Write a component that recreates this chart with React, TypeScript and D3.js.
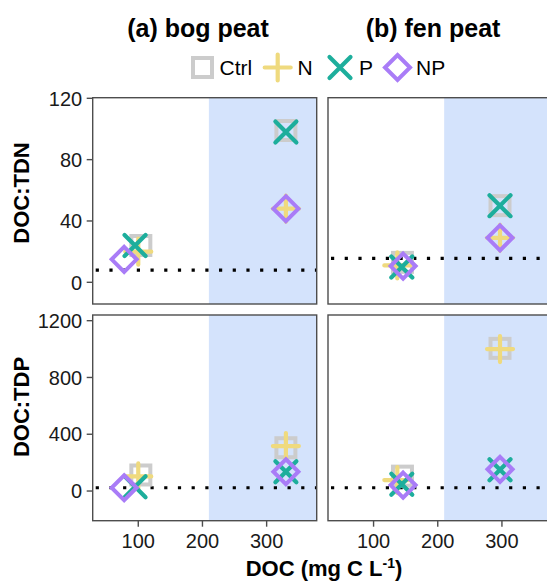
import React from "react";
import * as d3 from "d3";

// ---- data ----
const treatments = ["Ctrl", "N", "P", "NP"];
const peats = ["(a) bog peat", "(b) fen peat"];
const ratios = ["DOC:TDN", "DOC:TDP"];

// DOC (x) per peat, low & high additions, in treatment order
const bogDocLow = [104, 100, 95, 78];
const bogDocHigh = [330, 330, 330, 330];
const fenDocLow = [145, 137, 144, 146];
const fenDocHigh = [297, 297, 297, 297];

// DOC:TDN
const bogTdnLow = [24, 20, 24, 15];
const bogTdnHigh = [99, 48, 98, 48];
const fenTdnLow = [13, 11, 10, 10.6];
const fenTdnHigh = [50, 29, 50, 29];

// DOC:TDP
const bogTdpLow = [113, 103, 30, 23];
const bogTdpHigh = [305, 317, 136, 136];
const fenTdpLow = [105, 77, 48, 42];
const fenTdpHigh = [1005, 1000, 150, 153];

// reference (dotted) lines: [bog, fen]
const tdnRef = [8, 15.6];
const tdpRef = [23, 23];

const shadeStart = 210;
const xTicks = [100, 200, 300];
const tdnTicks = [0, 40, 80, 120];
const tdpTicks = [0, 400, 800, 1200];

const colors = ["#CCCCCC", "#EFDA7E", "#1DAE9C", "#A97CF7"];

// ---- layout ----
const W = 547, H = 583;
const panelX = [[92.7, 316.7], [328, 552]];
const panelY = [[97.7, 304], [315, 520.7]];
const xDomain = [29, 378];
const yDomains = [[-14.15, 120.4], [-209, 1240]];
const FONT = "'Liberation Sans', Arial, Helvetica, sans-serif";

function Marker({ shape, x, y, color }) {
  const sw = 4.2;
  if (shape === 0) {
    return <rect x={x - 9.5} y={y - 9.5} width={19} height={19} fill="none" stroke={color} strokeWidth={4} />;
  }
  if (shape === 1) {
    return <path d={`M${x - 13},${y}H${x + 13}M${x},${y - 13}V${y + 13}`} stroke={color} strokeWidth={sw} strokeLinecap="round" fill="none" />;
  }
  if (shape === 2) {
    const r = 10.5;
    return <path d={`M${x - r},${y - r}L${x + r},${y + r}M${x - r},${y + r}L${x + r},${y - r}`} stroke={color} strokeWidth={sw} strokeLinecap="round" fill="none" />;
  }
  const r = 12.5;
  return <path d={`M${x},${y - r}L${x + r},${y}L${x},${y + r}L${x - r},${y}Z`} stroke={color} strokeWidth={4} fill="none" strokeLinejoin="miter" />;
}

export default function App() {
  const groups = [
    // [row][col] -> list of {x[], y[]}
    [
      [{ x: bogDocLow, y: bogTdnLow }, { x: bogDocHigh, y: bogTdnHigh }],
      [{ x: fenDocLow, y: fenTdnLow }, { x: fenDocHigh, y: fenTdnHigh }],
    ],
    [
      [{ x: bogDocLow, y: bogTdpLow }, { x: bogDocHigh, y: bogTdpHigh }],
      [{ x: fenDocLow, y: fenTdpLow }, { x: fenDocHigh, y: fenTdpHigh }],
    ],
  ];
  const refs = [tdnRef, tdpRef];
  const yTicksAll = [tdnTicks, tdpTicks];
  const ratioLabelY = [193, 407];
  const titleX = [198, 433];

  const panels = [];
  for (let r = 0; r < 2; r++) {
    for (let c = 0; c < 2; c++) {
      const [x0, x1] = panelX[c];
      const [y0, y1] = panelY[r];
      const xs = d3.scaleLinear().domain(xDomain).range([x0, x1]);
      const ys = d3.scaleLinear().domain(yDomains[r]).range([y1, y0]);
      const clipId = `clip-${r}-${c}`;
      panels.push(
        <g key={`p${r}${c}`}>
          <clipPath id={clipId}>
            <rect x={x0} y={y0} width={x1 - x0} height={y1 - y0} />
          </clipPath>
          <g clipPath={`url(#${clipId})`}>
            <rect x={x0} y={y0} width={x1 - x0} height={y1 - y0} fill="#ffffff" />
            <rect x={xs(shadeStart)} y={y0} width={x1 - xs(shadeStart)} height={y1 - y0} fill="#D4E3FC" />
            <line x1={x0} x2={x1} y1={ys(refs[r][c])} y2={ys(refs[r][c])} stroke="#000" strokeWidth={3.2} strokeDasharray="3.2 10.5" strokeDashoffset={-3} />
            {groups[r][c].map((g, gi) =>
              treatments.map((t, ti) => (
                <Marker key={`${gi}-${ti}`} shape={ti} x={xs(g.x[ti])} y={ys(g.y[ti])} color={colors[ti]} />
              ))
            )}
          </g>
          <rect x={x0} y={y0} width={x1 - x0} height={y1 - y0} fill="none" stroke="#4D4D4D" strokeWidth={1.4} />
          {c === 0 &&
            yTicksAll[r].map((t) => (
              <g key={`yt${t}`}>
                <line x1={x0 - 6} x2={x0} y1={ys(t)} y2={ys(t)} stroke="#4D4D4D" strokeWidth={1.4} />
                <text x={x0 - 10.5} y={ys(t)} dy="0.36em" textAnchor="end" fontSize={20} fontFamily={FONT} fill="#1a1a1a">{t}</text>
              </g>
            ))}
          {r === 1 &&
            xTicks.map((t) => (
              <g key={`xt${t}`}>
                <line x1={xs(t)} x2={xs(t)} y1={y1} y2={y1 + 6} stroke="#4D4D4D" strokeWidth={1.4} />
                <text x={xs(t)} y={548} textAnchor="middle" fontSize={20} fontFamily={FONT} fill="#1a1a1a">{t}</text>
              </g>
            ))}
        </g>
      );
    }
  }

  // legend
  const legendItems = [
    { mx: 202.5, tx: 219.5 },
    { mx: 277.7, tx: 297.5 },
    { mx: 340, tx: 359 },
    { mx: 397.5, tx: 416 },
  ];

  return (
    <svg width={W} height={H} style={{ position: "absolute", left: 0, top: 0, background: "#fff" }}>
      <rect x={0} y={0} width={W} height={H} fill="#fff" />
      {peats.map((p, i) => (
        <text key={p} x={titleX[i]} y={36.5} textAnchor="middle" fontSize={25} fontWeight="bold" fontFamily={FONT} fill="#000">{p}</text>
      ))}
      {treatments.map((t, i) => (
        <g key={t}>
          <Marker shape={i} x={legendItems[i].mx} y={67.5} color={colors[i]} />
          <text x={legendItems[i].tx} y={67.5} dy="0.36em" fontSize={21} fontFamily={FONT} fill="#000">{t}</text>
        </g>
      ))}
      {panels}
      {ratios.map((lab, i) => (
        <text key={lab} transform={`translate(28.5,${ratioLabelY[i]}) rotate(-90)`} textAnchor="middle" fontSize={22} fontWeight="bold" fontFamily={FONT} fill="#000">{lab}</text>
      ))}
      <text x={324} y={575.5} textAnchor="middle" fontSize={22} fontWeight="bold" fontFamily={FONT} fill="#000">
        DOC (mg C L<tspan dy={-8} fontSize={14}>-1</tspan><tspan dy={8}>)</tspan>
      </text>
    </svg>
  );
}
